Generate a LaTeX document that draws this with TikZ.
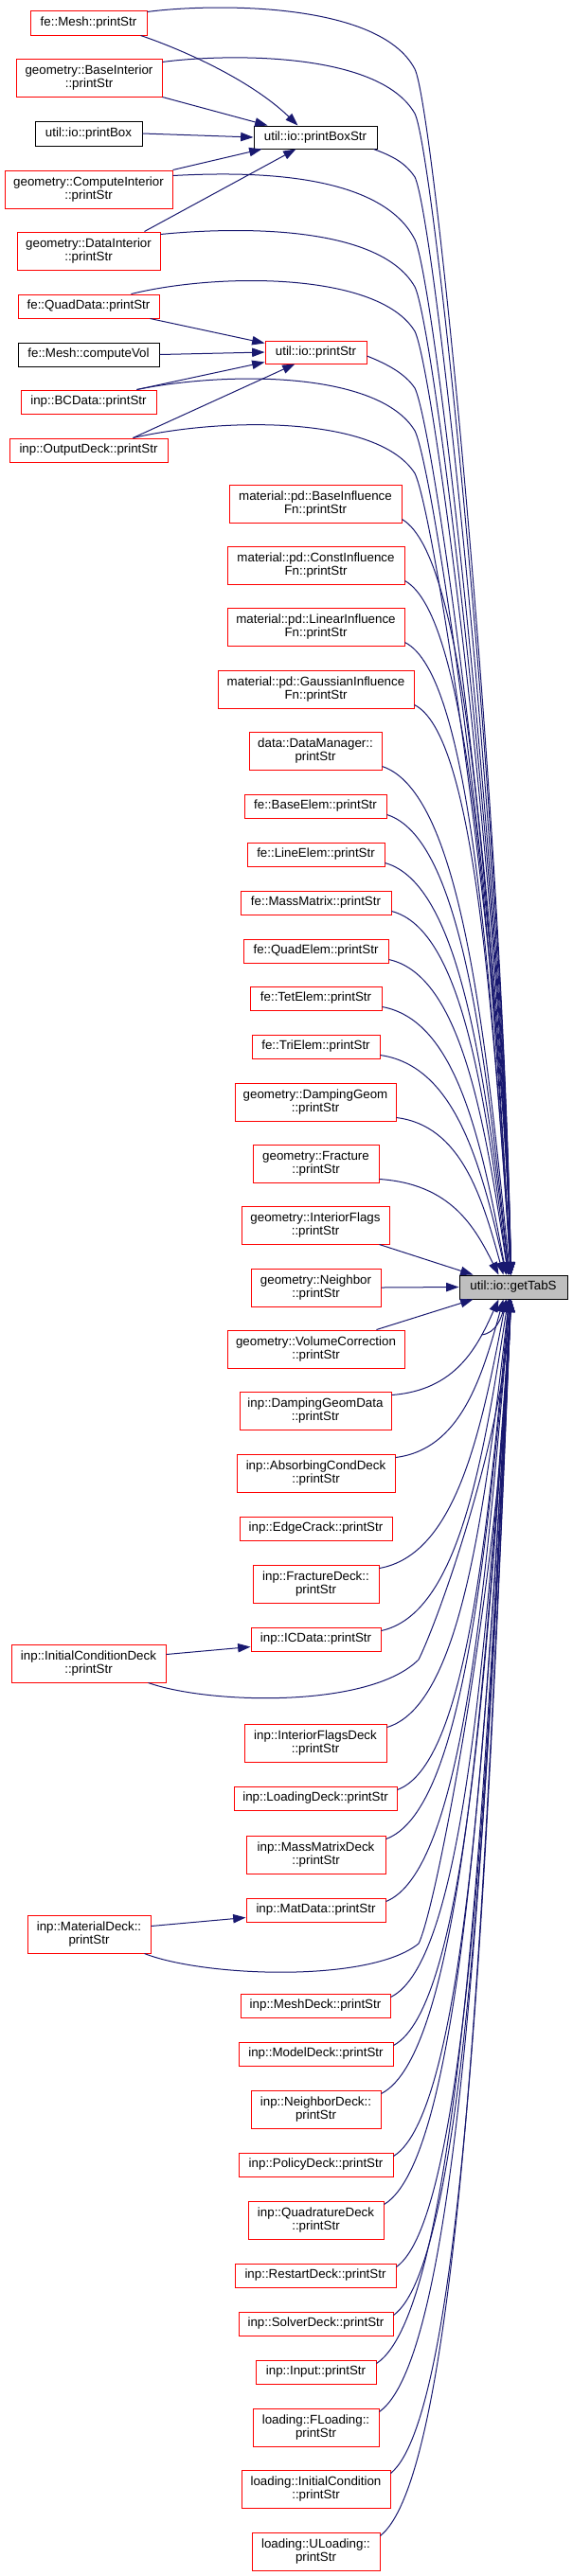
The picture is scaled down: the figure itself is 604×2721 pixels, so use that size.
\documentclass[tikz,border=0pt]{standalone}
\usepackage{fontspec}
\setmainfont{Liberation Sans}
\usetikzlibrary{arrows.meta,calc}
\definecolor{edgeblue}{HTML}{191970}
\definecolor{boxred}{HTML}{FF0000}
\definecolor{boxgray}{HTML}{BFBFBF}
\tikzset{
  fnbase/.style={rectangle, inner sep=0pt, align=center, font=\fontsize{10}{10.7}\selectfont, line width=0.75pt},
  redbox/.style={fnbase, draw=boxred, fill=white},
  blackbox/.style={fnbase, draw=black, fill=white},
  graybox/.style={fnbase, draw=black, fill=boxgray},
  edge/.style={draw=edgeblue, line width=0.75pt, -{Triangle[length=10pt,width=7pt]}},
}
\newcommand\fnbox[7]{\node[#1,minimum width={(#4-#3)*0.75pt},minimum height={(#6-#5)*0.75pt}] (#2) at ({(#3+#4)/2},{(#5+#6)/2}) {#7};}
\newcommand\edgedown[2]{%
  \coordinate (es) at ($(#1.south east)+(0,-4)$);
  \coordinate (et) at ($(gts.north west)+(#2,0)$);
  \coordinate (ea) at ($(es)!0.6!(et)$);
  \coordinate (eb) at ($(es)!0.05!(et)$);
  \coordinate (ec) at ($(et)!0.2!(es)$);
  \coordinate (ed) at ($(et)!0.5!(es)$);
  \draw[edge] (es) .. controls (ea |- eb) and (ec |- ed) .. (et);}
\newcommand\edgeup[2]{%
  \coordinate (es) at ($(#1.north east)+(0,4)$);
  \coordinate (et) at ($(gts.south west)+(#2,0)$);
  \coordinate (ea) at ($(es)!0.6!(et)$);
  \coordinate (eb) at ($(es)!0.05!(et)$);
  \coordinate (ec) at ($(et)!0.2!(es)$);
  \coordinate (ed) at ($(et)!0.5!(es)$);
  \draw[edge] (es) .. controls (ea |- eb) and (ec |- ed) .. (et);}
\begin{document}
\begin{tikzpicture}[x=0.75pt,y=-0.75pt]
\useasboundingbox[fill=white] (0,0) rectangle (604,2721);
% left column
\fnbox{redbox}{fmesh}{32}{155}{11}{37}{fe::Mesh::printStr}
\fnbox{redbox}{bint}{17}{171}{62}{102}{geometry::BaseInterior\\::printStr}
\fnbox{blackbox}{pbox}{37}{150}{128}{154}{util::io::printBox}
\fnbox{redbox}{cint}{5}{182}{180}{220}{geometry::ComputeInterior\\::printStr}
\fnbox{redbox}{dint}{18}{169}{245}{285}{geometry::DataInterior\\::printStr}
\fnbox{redbox}{qdat}{19}{168}{311}{336}{fe::QuadData::printStr}
\fnbox{blackbox}{cvol}{19}{168}{362}{387}{fe::Mesh::computeVol}
\fnbox{redbox}{bcd}{22}{165}{412}{437}{inp::BCData::printStr}
\fnbox{redbox}{od}{10}{177}{463}{488}{inp::OutputDeck::printStr}
\fnbox{redbox}{icdeck}{12}{175}{1737}{1777}{inp::InitialConditionDeck\\::printStr}
\fnbox{redbox}{matdeck}{29}{159}{2023}{2063}{inp::MaterialDeck::\\printStr}
% intermediates and target
\fnbox{blackbox}{pbs}{268}{398}{133}{157}{util::io::printBoxStr}
\fnbox{redbox}{ps}{280}{387}{360}{384}{util::io::printStr}
\fnbox{graybox}{gts}{485}{599}{1347}{1372}{util::io::getTabS}
% middle column
\fnbox{redbox}{bif}{242}{424}{512}{552}{material::pd::BaseInfluence\\Fn::printStr}
\fnbox{redbox}{cif}{240}{427}{577}{617}{material::pd::ConstInfluence\\Fn::printStr}
\fnbox{redbox}{lif}{240}{427}{642}{682}{material::pd::LinearInfluence\\Fn::printStr}
\fnbox{redbox}{gif}{230}{437}{708}{748}{material::pd::GaussianInfluence\\Fn::printStr}
\fnbox{redbox}{dm}{263}{403}{773}{813}{data::DataManager::\\printStr}
\fnbox{redbox}{be}{258}{408}{839}{864}{fe::BaseElem::printStr}
\fnbox{redbox}{le}{261}{406}{890}{915}{fe::LineElem::printStr}
\fnbox{redbox}{mm}{254}{413}{941}{966}{fe::MassMatrix::printStr}
\fnbox{redbox}{qe}{257}{410}{992}{1017}{fe::QuadElem::printStr}
\fnbox{redbox}{te}{264}{403}{1042}{1067}{fe::TetElem::printStr}
\fnbox{redbox}{tre}{266}{401}{1093}{1118}{fe::TriElem::printStr}
\fnbox{redbox}{dg}{248}{418}{1144}{1184}{geometry::DampingGeom\\::printStr}
\fnbox{redbox}{fr}{267}{400}{1209}{1249}{geometry::Fracture\\::printStr}
\fnbox{redbox}{inf}{255}{411}{1274}{1314}{geometry::InteriorFlags\\::printStr}
\fnbox{redbox}{nb}{265}{402}{1340}{1380}{geometry::Neighbor\\::printStr}
\fnbox{redbox}{vc}{240}{427}{1405}{1445}{geometry::VolumeCorrection\\::printStr}
\fnbox{redbox}{dgd}{253}{413}{1470}{1510}{inp::DampingGeomData\\::printStr}
\fnbox{redbox}{acd}{250}{417}{1536}{1576}{inp::AbsorbingCondDeck\\::printStr}
\fnbox{redbox}{ec}{253}{414}{1602}{1627}{inp::EdgeCrack::printStr}
\fnbox{redbox}{fd}{267}{400}{1653}{1693}{inp::FractureDeck::\\printStr}
\fnbox{redbox}{icd}{265}{402}{1719}{1744}{inp::ICData::printStr}
\fnbox{redbox}{ifd}{258}{408}{1821}{1861}{inp::InteriorFlagsDeck\\::printStr}
\fnbox{redbox}{ld}{247}{419}{1887}{1912}{inp::LoadingDeck::printStr}
\fnbox{redbox}{mmd}{260}{407}{1939}{1979}{inp::MassMatrixDeck\\::printStr}
\fnbox{redbox}{md}{260}{407}{2005}{2030}{inp::MatData::printStr}
\fnbox{redbox}{msd}{254}{412}{2106}{2131}{inp::MeshDeck::printStr}
\fnbox{redbox}{mod}{252}{415}{2157}{2182}{inp::ModelDeck::printStr}
\fnbox{redbox}{nd}{265}{402}{2208}{2248}{inp::NeighborDeck::\\printStr}
\fnbox{redbox}{pd}{252}{415}{2274}{2299}{inp::PolicyDeck::printStr}
\fnbox{redbox}{qd}{262}{405}{2325}{2365}{inp::QuadratureDeck\\::printStr}
\fnbox{redbox}{rd}{248}{418}{2391}{2416}{inp::RestartDeck::printStr}
\fnbox{redbox}{sd}{252}{415}{2442}{2467}{inp::SolverDeck::printStr}
\fnbox{redbox}{inpt}{270}{397}{2493}{2518}{inp::Input::printStr}
\fnbox{redbox}{fl}{267}{400}{2544}{2584}{loading::FLoading::\\printStr}
\fnbox{redbox}{ic}{255}{412}{2609}{2649}{loading::InitialCondition\\::printStr}
\fnbox{redbox}{ul}{266}{401}{2675}{2715}{loading::ULoading::\\printStr}
% left column -> intermediates
\draw[edge] ($(fmesh.south east)+(-7,0)$) .. controls (180,48) and (260,80) .. ($(pbs.north west)+(47,0)$);
\draw[edge] (bint.south east) -- ($(pbs.north west)+(15,0)$);
\draw[edge] (pbox.east) -- (pbs.west);
\draw[edge] (cint.north east) -- ($(pbs.south west)+(9,0)$);
\draw[edge] ($(dint.north east)+(-17,0)$) -- ($(pbs.south west)+(45,0)$);
\draw[edge] ($(qdat.south east)+(-10,0)$) -- ($(ps.north west)+(0,3)$);
\draw[edge] (cvol.east) -- (ps.west);
\draw[edge] ($(bcd.north east)+(-21,0)$) -- ($(ps.south west)+(0,-2)$);
\draw[edge] ($(od.north east)+(-37,0)$) -- ($(ps.south west)+(32,0)$);
\draw[edge] ($(icdeck.north east)+(0,11)$) -- ($(icd.west)+(0,8)$);
\draw[edge] ($(matdeck.north east)+(0,12)$) -- ($(md.west)+(0,8)$);
% left column -> getTabS (arcs)
\draw[edge] ($(fmesh.north east)+(0,2)$) .. controls (218,4) and (400,0) .. (438,73) .. controls (458,113) and (530,837) .. ($(gts.north west)+(55,0)$);
\draw[edge] ($(bint.north east)+(0,4)$) .. controls (234,57) and (400,53) .. (438,120) .. controls (458,160) and (530,856) .. ($(gts.north west)+(55,0)$);
\draw[edge] ($(cint.north east)+(0,6)$) .. controls (249,182) and (400,178) .. (438,253) .. controls (458,293) and (530,909) .. ($(gts.north west)+(55,0)$);
\draw[edge] ($(dint.north east)+(0,3)$) .. controls (245,240) and (400,236) .. (438,303) .. controls (458,343) and (530,929) .. ($(gts.north west)+(55,0)$);
\draw[edge] ($(qdat.north east)+(-30,0)$) .. controls (230,288) and (400,287) .. (438,350) .. controls (458,390) and (530,948) .. ($(gts.north west)+(55,0)$);
\draw[edge] ($(bcd.north east)+(-21,0)$) .. controls (240,392) and (400,392) .. (438,455) .. controls (458,495) and (530,990) .. ($(gts.north west)+(55,0)$);
\draw[edge] ($(od.north east)+(-37,0)$) .. controls (240,440) and (400,440) .. (438,500) .. controls (458,540) and (530,1008) .. ($(gts.north west)+(55,0)$);
\draw[edge] ($(pbs.south east)+(-4,0)$) .. controls (415,165) and (428,172) .. (438,187) .. controls (458,227) and (530,883) .. ($(gts.north west)+(55,0)$);
\draw[edge] ($(ps.east)+(0,4)$) .. controls (410,385) and (428,395) .. (438,410) .. controls (458,450) and (530,972) .. ($(gts.north west)+(55,0)$);
\draw[edge] ($(icdeck.south east)+(-19,0)$) .. controls (220,1800) and (390,1805) .. (442,1753) .. controls (462,1713) and (530,1524) .. ($(gts.south west)+(55,0)$);
\draw[edge] ($(matdeck.south east)+(-7,0)$) .. controls (215,2088) and (390,2095) .. (442,2053) .. controls (462,2013) and (530,1644) .. ($(gts.south west)+(55,0)$);
% middle column above -> getTabS
\edgedown{bif}{55}
\edgedown{cif}{55}
\edgedown{lif}{55}
\edgedown{gif}{55}
\edgedown{dm}{54}
\edgedown{be}{53}
\edgedown{le}{53}
\edgedown{mm}{52}
\edgedown{qe}{52}
\edgedown{te}{50}
\edgedown{tre}{50}
\edgedown{dg}{47}
\edgedown{fr}{42}
\draw[edge] ($(inf.south east)+(-11,0)$) -- ($(gts.north west)+(15,0)$);
\draw[edge] (nb.east) -- (gts.west);
\draw[edge] ($(vc.north east)+(-30,0)$) -- ($(gts.south west)+(15,0)$);
% middle column below -> getTabS
\edgeup{dgd}{42}
\edgeup{acd}{47}
\edgeup{ec}{50}
\edgeup{fd}{50}
\edgeup{icd}{52}
\edgeup{ifd}{53}
\edgeup{ld}{53}
\edgeup{mmd}{54}
\edgeup{md}{54}
\edgeup{msd}{55}
\edgeup{mod}{55}
\edgeup{nd}{55}
\edgeup{pd}{55}
\edgeup{qd}{55}
\edgeup{rd}{55}
\edgeup{sd}{55}
\edgeup{inpt}{55}
\edgeup{fl}{55}
\edgeup{ic}{55}
\edgeup{ul}{55}
\end{tikzpicture}
\end{document}
